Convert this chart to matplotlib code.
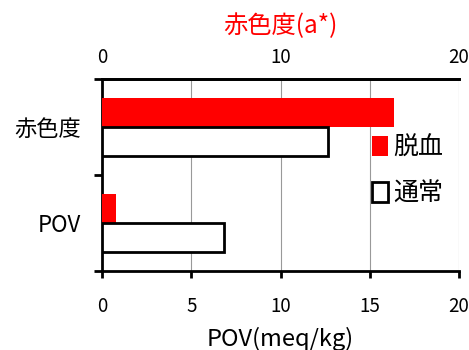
import matplotlib
matplotlib.use("Agg")
import matplotlib.pyplot as plt
from matplotlib.patches import Patch

plt.rcParams['font.family'] = ['Noto Sans CJK JP', 'DejaVu Sans']

categories = ["POV", "赤色度"]
series_names = ["脱血", "通常"]
datsuketsu = [0.77, 16.36]
tsujo = [6.84, 12.68]
bottom_ticks = [0, 5, 10, 15, 20]
top_ticks = [0, 10, 20]

fig = plt.figure(figsize=(4.69, 3.5), dpi=100)
ax = fig.add_axes([0.2175, 0.2257, 0.7612, 0.5486])

h = 0.3
ypos = list(range(len(categories)))
ax.barh([y + h / 2 for y in ypos], datsuketsu, height=h, color="#ff0000",
        edgecolor="none", zorder=3)
ax.barh([y - h / 2 for y in ypos], tsujo, height=h, color="white",
        edgecolor="black", linewidth=2, zorder=3)

ax.set_xlim(0, 20)
ax.set_ylim(-0.5, 1.5)
ax.set_xticks(bottom_ticks)
ax.set_xticklabels([str(t) for t in bottom_ticks], fontsize=13.5)
ax.grid(axis="x", color="#999999", linewidth=0.8, zorder=0)
ax.set_yticks([-0.5, 0.5, 1.5])
ax.set_yticklabels([])
ax.set_yticks(ypos, minor=True)
ax.set_yticklabels(categories, minor=True, fontsize=16)
ax.tick_params(axis="y", which="minor", length=0, pad=15)
ax.tick_params(axis="y", which="major", length=6, width=2)
ax.tick_params(axis="x", length=5, width=2, pad=13)
ax.set_xlabel("POV(meq/kg)", fontsize=17, labelpad=7)

ax.spines["right"].set_visible(False)
for side in ("left", "bottom", "top"):
    ax.spines[side].set_linewidth(2)

# top axis for the redness scale
top = ax.twiny()
top.set_xlim(0, 20)
top.set_xticks(top_ticks)
top.set_xticklabels([str(t) for t in top_ticks], fontsize=13.5)
top.tick_params(axis="x", length=0, pad=8)
top.set_xlabel("赤色度(a*)", fontsize=17.5, color="#ff0000", labelpad=10)
for side in ("left", "bottom", "right"):
    top.spines[side].set_visible(False)
top.spines["top"].set_linewidth(2)

handles = [Patch(facecolor="#ff0000", edgecolor="none"),
           Patch(facecolor="white", edgecolor="black", linewidth=2)]
fig.legend(handles, series_names, loc="upper left", bbox_to_anchor=(0.755, 0.665),
           frameon=False, fontsize=18, handlelength=0.65, handleheight=0.85,
           handletextpad=0.2, labelspacing=0.8, borderpad=0.2)

fig.savefig("out.png", dpi=100)
